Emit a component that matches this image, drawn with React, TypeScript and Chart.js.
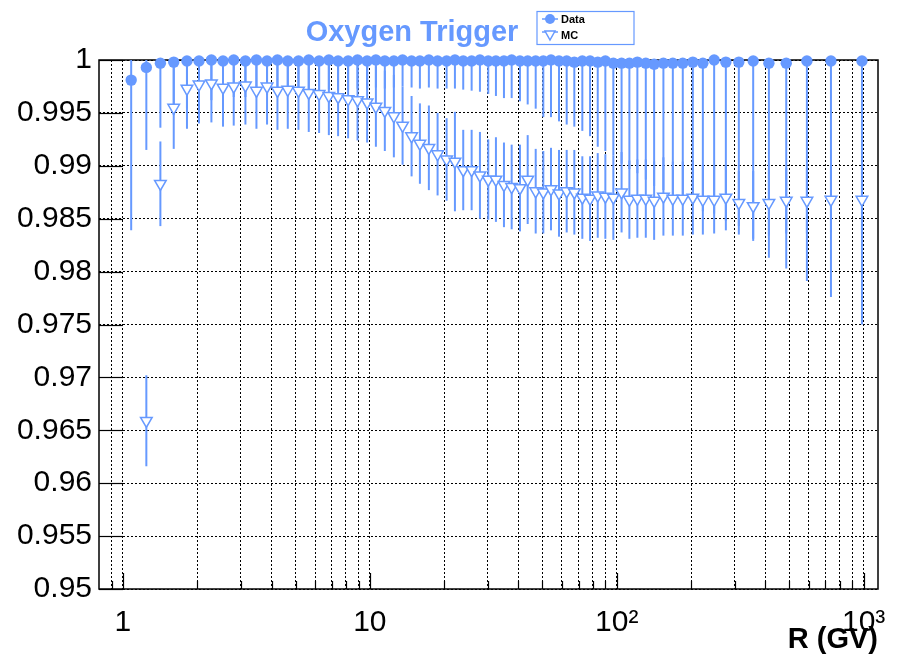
import React, { useEffect, useRef } from 'react';
import { Chart, registerables } from 'chart.js';

Chart.register(...registerables);

// ---------------- data ----------------
const rigidity = [
  1.08, 1.244, 1.418, 1.606, 1.817, 2.033, 2.282, 2.543, 2.81, 3.134,
  3.473, 3.834, 4.225, 4.652, 5.14, 5.657, 6.23, 6.823, 7.437, 8.166,
  8.915, 9.752, 10.58, 11.5, 12.51, 13.57, 14.76, 15.95, 17.34, 18.81,
  20.46, 22.11, 23.89, 25.84, 27.92, 30.17, 32.41, 34.93, 37.53, 40.55,
  43.58, 46.96, 50.41, 54.17, 58.36, 62.7, 67.32, 72.54, 77.96, 83.75,
  89.91, 96.87, 104.6, 112.5, 121.2, 131.1, 141.7, 154.5, 168.7, 185.1,
  203.3, 223.2, 248.0, 276.6, 312.2, 356.9, 413.2, 485.8, 589.0, 737.1,
  984.2,
];

const dataEff = [
  0.9981, 0.9993, 0.9997, 0.9998, 0.9999, 0.9999, 1.0, 0.9999, 1.0, 0.9999,
  1.0, 0.9999, 1.0, 0.9999, 0.9999, 1.0, 0.9999, 1.0, 0.9999, 0.9999,
  1.0, 0.9999, 1.0, 0.9999, 0.9999, 1.0, 0.9999, 0.9999, 1.0, 0.9999,
  0.9999, 1.0, 0.9999, 0.9999, 1.0, 0.9999, 0.9999, 0.9999, 1.0, 0.9999,
  0.9999, 0.9999, 0.9999, 1.0, 0.9999, 0.9999, 0.9998, 0.9999, 0.9999, 0.9998,
  0.9999, 0.9997, 0.9997, 0.9997, 0.9998, 0.9997, 0.9996, 0.9997, 0.9997, 0.9997,
  0.9998, 0.9997, 1.0, 0.9998, 0.9998, 0.9999, 0.9997, 0.9997, 0.9999, 0.9999,
  0.9999,
];

const dataErr = [
  0.0142, 0.0078, 0.0061, 0.005, 0.0045, 0.004, 0.0038, 0.0036, 0.0035, 0.0034,
  0.0033, 0.0032, 0.0031, 0.003, 0.003, 0.0029, 0.0029, 0.0028, 0.0028, 0.0027,
  0.0027, 0.0026, 0.0026, 0.0026, 0.0025, 0.0025, 0.0025, 0.0026, 0.0026, 0.0026,
  0.0026, 0.0027, 0.0027, 0.0028, 0.003, 0.0031, 0.0033, 0.0035, 0.0036, 0.0038,
  0.0041, 0.0045, 0.0053, 0.0054, 0.0057, 0.006, 0.0061, 0.0066, 0.0071, 0.008,
  0.0085, 0.0087, 0.0095, 0.01, 0.0105, 0.011, 0.0115, 0.012, 0.0125, 0.013,
  0.0135, 0.014, 0.0145, 0.015, 0.0155, 0.0168, 0.0184, 0.0194, 0.0208, 0.0223,
  0.0249,
];

const mcEff = [
  null, 0.9659, 0.9883, 0.9955, 0.9973, 0.9977, 0.9978, 0.9974, 0.9975, 0.9976,
  0.9971, 0.9975, 0.9971, 0.9972, 0.9971, 0.9969, 0.9968, 0.9966, 0.9965, 0.9963,
  0.9962, 0.996, 0.9956, 0.9952, 0.9947, 0.9938, 0.9928, 0.9921, 0.9917, 0.9911,
  0.9906, 0.9904, 0.9896, 0.9896, 0.9891, 0.9887, 0.9887, 0.9882, 0.988, 0.9879,
  0.9887, 0.9876, 0.9875, 0.9878, 0.9874, 0.9876, 0.9875, 0.987, 0.9869, 0.9872,
  0.9871, 0.987, 0.9875, 0.9868, 0.9869, 0.9869, 0.9867, 0.9871, 0.9869, 0.9869,
  0.987, 0.9868, 0.9868, 0.987, 0.9865, 0.9862, 0.9865, 0.9867, 0.9867, 0.9868,
  0.9868,
];

const mcErr = [
  null, 0.0043, 0.004, 0.0039, 0.0038, 0.0037, 0.0037, 0.0037, 0.0037, 0.0037,
  0.0036, 0.0036, 0.0037, 0.0037, 0.0037, 0.0037, 0.0037, 0.0037, 0.0037, 0.0037,
  0.0038, 0.0038, 0.0038, 0.0038, 0.0039, 0.0037, 0.0038, 0.0038, 0.004, 0.0039,
  0.0039, 0.0047, 0.0038, 0.0038, 0.0041, 0.0038, 0.004, 0.004, 0.004, 0.0041,
  0.0042, 0.004, 0.0039, 0.0039, 0.0041, 0.0039, 0.004, 0.0039, 0.004, 0.004,
  0.004, 0.004, 0.0038, 0.0037, 0.0037, 0.0037, 0.0037, 0.0037, 0.0035, 0.0035,
  0.0035, 0.0033, 0.0032, 0.0031, 0.003, 0.0033, 0.0031, 0.0031, 0.0031, 0.0031,
  0.0031,
];

const xGridTicks = [
  0.9, 1, 2, 3, 4, 5, 6, 7, 8, 9,
  10, 20, 30, 40, 50, 60, 70, 80, 90,
  100, 200, 300, 400, 500, 600, 700, 800, 900, 1000,
];
const xLabeledTicks = [1, 10, 100, 1000];
const xLabels = ['1', '10', '10\u00B2', '10\u00B3'];

const titleText = 'Oxygen Trigger';
const xTitle = 'R (GV)';
const seriesNames = ['Data', 'MC'];

const X_MIN = 0.8;
const X_MAX = 1143;
const Y_MIN = 0.95;
const Y_MAX = 1.0;
const Y_STEP = 0.005;

const BLUE = '#6699ff';
const FONT = '"Liberation Sans", Arial, Helvetica, sans-serif';

// ---------------- plugins ----------------
const framePlugin = {
  id: 'frameAndErrors',
  beforeDatasetsDraw(chart: any) {
    const { ctx, chartArea } = chart;
    const xs = chart.scales.x;
    const ys = chart.scales.y;
    const { left, right, top, bottom } = chartArea;
    ctx.save();
    // inward ticks
    ctx.strokeStyle = '#000';
    ctx.lineWidth = 1.2;
    ys.ticks.forEach((t: any) => {
      const y = Math.round(ys.getPixelForValue(t.value)) + 0.5;
      ctx.beginPath();
      ctx.moveTo(left, y);
      ctx.lineTo(left + 24, y);
      ctx.stroke();
    });
    xs.ticks.forEach((t: any) => {
      const x = Math.round(xs.getPixelForValue(t.value)) + 0.5;
      const len = xLabeledTicks.includes(t.value) ? 16 : 8;
      ctx.beginPath();
      ctx.moveTo(x, bottom);
      ctx.lineTo(x, bottom - len);
      ctx.stroke();
    });
    // frame
    ctx.lineWidth = 1.5;
    ctx.strokeRect(left, top, right - left, bottom - top);

    // error bars (clipped to the frame)
    ctx.beginPath();
    ctx.rect(left, top, right - left, bottom - top);
    ctx.clip();
    ctx.strokeStyle = BLUE;
    ctx.lineWidth = 2;
    chart.data.datasets.forEach((ds: any, i: number) => {
      const meta = chart.getDatasetMeta(i);
      meta.data.forEach((el: any, j: number) => {
        const p = ds.data[j];
        if (!p || p.y == null) return;
        const y1 = ys.getPixelForValue(p.y + p.err);
        const y2 = ys.getPixelForValue(p.y - p.err);
        ctx.beginPath();
        ctx.moveTo(el.x, y1);
        ctx.lineTo(el.x, y2);
        ctx.stroke();
      });
    });
    ctx.restore();
  },
  afterDraw(chart: any) {
    const { ctx } = chart;
    ctx.save();
    // title
    ctx.fillStyle = BLUE;
    ctx.font = `bold 29px ${FONT}`;
    ctx.textAlign = 'center';
    ctx.textBaseline = 'alphabetic';
    ctx.fillText(titleText, 412, 41);

    // legend box
    ctx.fillStyle = '#fff';
    ctx.fillRect(537, 11.5, 97, 33);
    ctx.strokeStyle = BLUE;
    ctx.lineWidth = 1.2;
    ctx.strokeRect(537, 11.5, 97, 33);

    // Data entry
    ctx.strokeStyle = BLUE;
    ctx.lineWidth = 1.5;
    ctx.beginPath();
    ctx.moveTo(542, 19);
    ctx.lineTo(558, 19);
    ctx.stroke();
    ctx.fillStyle = BLUE;
    ctx.beginPath();
    ctx.arc(550, 19, 5, 0, Math.PI * 2);
    ctx.fill();

    // MC entry
    ctx.beginPath();
    ctx.moveTo(542, 32);
    ctx.lineTo(558, 32);
    ctx.stroke();
    ctx.fillStyle = '#fff';
    ctx.beginPath();
    ctx.moveTo(545, 31);
    ctx.lineTo(555, 31);
    ctx.lineTo(550, 40);
    ctx.closePath();
    ctx.fill();
    ctx.stroke();

    ctx.fillStyle = '#000';
    ctx.font = `bold 11px ${FONT}`;
    ctx.textAlign = 'left';
    ctx.fillText(seriesNames[0], 561, 23);
    ctx.fillText(seriesNames[1], 561, 39);
    ctx.restore();
  },
};

export default function App() {
  const canvasRef = useRef<HTMLCanvasElement | null>(null);

  useEffect(() => {
    const canvas = canvasRef.current;
    if (!canvas) return;

    const dataPoints = rigidity.map((r, i) => ({ x: r, y: dataEff[i], err: dataErr[i] }));
    const mcPoints = rigidity
      .map((r, i) => ({ x: r, y: mcEff[i], err: mcErr[i] }))
      .filter((p) => p.y != null);

    const chart = new Chart(canvas, {
      type: 'scatter',
      data: {
        datasets: [
          {
            label: seriesNames[0],
            data: dataPoints as any,
            pointStyle: 'circle',
            pointRadius: 5.7,
            pointHoverRadius: 5.7,
            backgroundColor: BLUE,
            borderColor: BLUE,
            borderWidth: 0,
            showLine: false,
            clip: false as any,
          },
          {
            label: seriesNames[1],
            data: mcPoints as any,
            pointStyle: 'triangle',
            rotation: 180,
            pointRadius: 6.7,
            pointHoverRadius: 6.7,
            backgroundColor: '#ffffff',
            borderColor: BLUE,
            borderWidth: 1.5,
            showLine: false,
            clip: false as any,
          },
        ],
      },
      options: {
        animation: false,
        responsive: false,
        maintainAspectRatio: false,
        devicePixelRatio: 1,
        events: [],
        layout: { padding: { top: 60, right: 19, bottom: 0, left: 0 } },
        plugins: {
          legend: { display: false },
          title: { display: false },
          tooltip: { enabled: false },
        },
        scales: {
          x: {
            type: 'logarithmic',
            min: X_MIN,
            max: X_MAX,
            afterBuildTicks: (s: any) => {
              s.ticks = xGridTicks.map((v) => ({ value: v }));
            },
            afterFit: (s: any) => {
              s.height = 68;
              s.paddingLeft = 0;
              s.paddingRight = 0;
            },
            grid: { color: '#000', lineWidth: 1, drawTicks: false },
            border: { display: false, dash: [2, 2] },
            ticks: {
              autoSkip: false,
              maxRotation: 0,
              minRotation: 0,
              padding: 16,
              color: '#000',
              font: { family: FONT, size: 30 },
              callback: (v: any) => {
                const i = xLabeledTicks.indexOf(Number(v));
                return i >= 0 ? xLabels[i] : '';
              },
            },
            title: {
              display: true,
              text: xTitle,
              align: 'end',
              color: '#000',
              font: { family: FONT, size: 29, weight: 'bold' },
              padding: { top: 0, bottom: 0 },
            },
          } as any,
          y: {
            type: 'linear',
            min: Y_MIN,
            max: Y_MAX,
            afterFit: (s: any) => {
              s.width = 99;
              s.paddingTop = 0;
              s.paddingBottom = 0;
            },
            grid: { color: '#000', lineWidth: 1, drawTicks: false },
            border: { display: false, dash: [2, 2] },
            ticks: {
              stepSize: Y_STEP,
              autoSkip: false,
              padding: 7,
              color: '#000',
              font: { family: FONT, size: 30 },
              callback: (v: any) => String(Number(Number(v).toFixed(3))),
            },
          } as any,
        },
      },
      plugins: [framePlugin],
    });

    return () => chart.destroy();
  }, []);

  return (
    <div
      style={{
        position: 'absolute',
        left: 0,
        top: 0,
        width: 897,
        height: 657,
        background: '#fff',
      }}
    >
      <canvas ref={canvasRef} width={897} height={657} style={{ display: 'block' }} />
    </div>
  );
}
